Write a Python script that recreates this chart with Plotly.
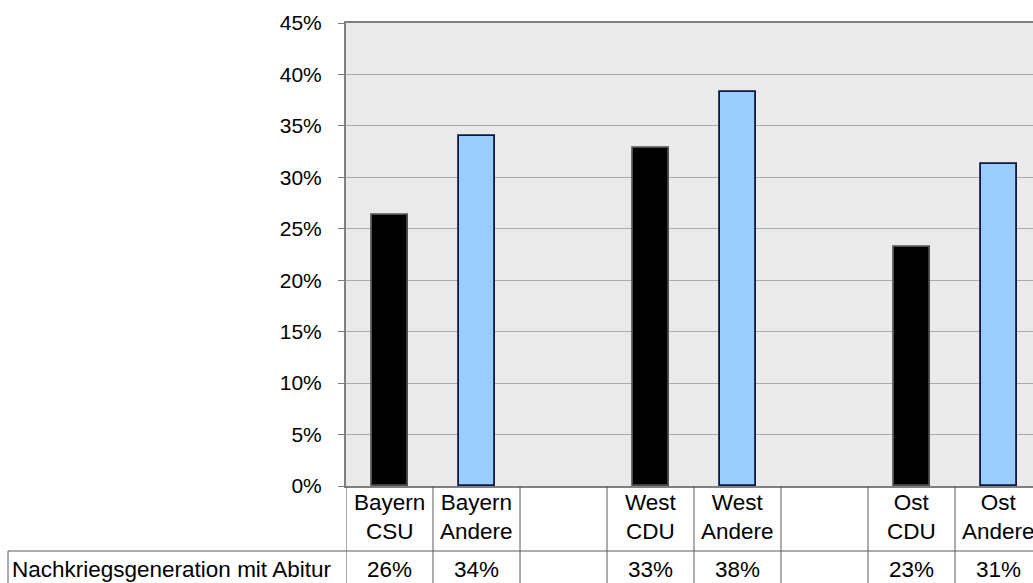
import plotly.graph_objects as go

categories = ["Bayern<br>CSU", "Bayern<br>Andere", "", "West<br>CDU", "West<br>Andere", "", "Ost<br>CDU", "Ost<br>Andere"]
values = [26.3, 34.0, None, 32.9, 38.3, None, 23.2, 31.3]
table_labels = ["26%", "34%", "", "33%", "38%", "", "23%", "31%"]
bar_colors = ["#000000", "#99CCFF", "#000000", "#000000", "#99CCFF", "#000000", "#000000", "#99CCFF"]
line_colors = ["#505050", "#101840", "#505050", "#505050", "#101840", "#505050", "#505050", "#101840"]
row_title = "Nachkriegsgeneration mit Abitur"
y_ticks = [0, 5, 10, 15, 20, 25, 30, 35, 40, 45]

W, H = 1033, 583
L, T, B = 346, 23, 97
plot_w = W - L
plot_h = H - T - B
col_px = 87.0
span = plot_w / col_px

xs = list(range(len(categories)))

fig = go.Figure()
fig.add_trace(go.Bar(
    x=xs, y=values, width=36 / col_px,
    marker=dict(color=bar_colors, line=dict(color=line_colors, width=1.8)),
    hoverinfo="skip",
))

def py(px):
    return (H - B - px) / plot_h

font = "Liberation Sans, Arial, sans-serif"
shapes = []
annotations = []
y_bottom = py(H + 5)
y_row = py(551)
for i in range(len(categories) + 1):
    shapes.append(dict(type="line", xref="x", yref="paper", x0=i - 0.5, x1=i - 0.5,
                       y0=0, y1=y_bottom, line=dict(color="#5a5a5a", width=1)))
shapes.append(dict(type="line", xref="paper", yref="paper", x0=(8 - L) / plot_w, x1=1.05,
                   y0=y_row, y1=y_row, line=dict(color="#5a5a5a", width=1)))
shapes.append(dict(type="line", xref="paper", yref="paper", x0=(8 - L) / plot_w, x1=(8 - L) / plot_w,
                   y0=y_row, y1=y_bottom, line=dict(color="#5a5a5a", width=1)))

fs = 22.5
for i, (c, v) in enumerate(zip(categories, table_labels)):
    if c:
        annotations.append(dict(x=i, y=py(517), xref="x", yref="paper", text=c, showarrow=False,
                                font=dict(size=fs, color="#000000", family=font), align="center",
                                xanchor="center", yanchor="middle"))
    if v:
        annotations.append(dict(x=i, y=py(569), xref="x", yref="paper", text=v, showarrow=False,
                                font=dict(size=fs, color="#000000", family=font),
                                xanchor="center", yanchor="middle"))
annotations.append(dict(x=(10 - L) / plot_w, y=py(569), xref="paper", yref="paper", text=row_title,
                        showarrow=False, font=dict(size=fs, color="#000000", family=font),
                        xanchor="left", yanchor="middle"))

fig.update_layout(
    width=W, height=H,
    margin=dict(l=L, r=0, t=T, b=B, pad=0),
    paper_bgcolor="#FFFFFF", plot_bgcolor="#EAEAEA",
    showlegend=False, bargap=0,
    font=dict(family=font, color="#000000"),
    shapes=shapes, annotations=annotations,
)
fig.update_xaxes(range=[-0.5, -0.5 + span], showticklabels=False, showgrid=False, zeroline=False,
                 showline=True, linecolor="#808080", linewidth=2, mirror=True, ticks="")
fig.update_yaxes(range=[0, 45], tickvals=y_ticks, ticktext=[f"{t}%" for t in y_ticks],
                 showgrid=True, gridcolor="#ABABAB", gridwidth=1, zeroline=False,
                 showline=True, linecolor="#808080", linewidth=2,
                 ticks="outside", ticklen=6, tickcolor="#808080", ticklabelstandoff=12,
                 tickfont=dict(size=21, color="#000000", family=font))

fig.write_html("out.html", config={"displayModeBar": False},
               post_script="document.body.style.margin='0';document.body.style.overflow='hidden';")
